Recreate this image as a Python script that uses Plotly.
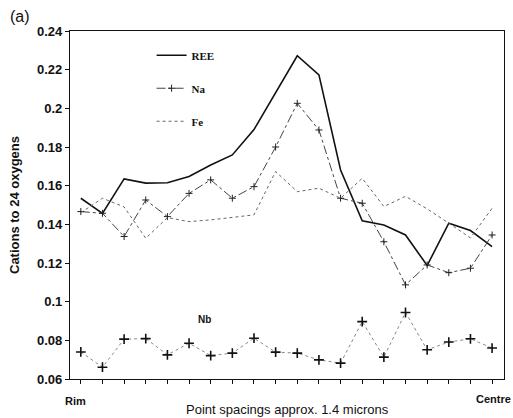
import plotly.graph_objects as go

points = list(range(20))
ree = [0.1535, 0.1457, 0.1635, 0.1613, 0.1615, 0.1647, 0.1707, 0.1759, 0.1890, 0.2080,
       0.2272, 0.2173, 0.1681, 0.1418, 0.1397, 0.1345, 0.1187, 0.1406, 0.1368, 0.1285]
na = [0.1466, 0.1457, 0.1337, 0.1526, 0.1440, 0.1560, 0.1630, 0.1535, 0.1595, 0.1800,
      0.2026, 0.1888, 0.1535, 0.1509, 0.1310, 0.1087, 0.1190, 0.1150, 0.1173, 0.1345]
fe = [0.1460, 0.1535, 0.1490, 0.1328, 0.1435, 0.1414, 0.1423, 0.1437, 0.1449, 0.1673,
      0.1569, 0.1587, 0.1535, 0.1638, 0.1492, 0.1545, 0.1480, 0.1406, 0.1330, 0.1483]
nb = [0.0740, 0.0661, 0.0806, 0.0809, 0.0725, 0.0785, 0.0721, 0.0734, 0.0811, 0.0739,
      0.0734, 0.0699, 0.0682, 0.0897, 0.0713, 0.0944, 0.0751, 0.0791, 0.0808, 0.0760]
y_ticks = [0.06, 0.08, 0.10, 0.12, 0.14, 0.16, 0.18, 0.20, 0.22, 0.24]
y_tick_labels = ["0.06", "0.08", "0.1", "0.12", "0.14", "0.16", "0.18", "0.2", "0.22", "0.24"]
end_labels = ["Rim", "Centre"]

SANS = "Liberation Sans, Arial"

fig = go.Figure()
fig.add_trace(go.Scatter(x=points, y=ree, mode="lines", name="REE", legendgroup="a",
                         line=dict(color="#111111", width=1.6)))
fig.add_trace(go.Scatter(x=points, y=na, mode="lines+markers", name="Na", legendgroup="b",
                         line=dict(color="#444444", width=1, dash="dashdot"),
                         marker=dict(symbol="cross-thin", size=5, line=dict(color="#222222", width=1))))
fig.add_trace(go.Scatter(x=points, y=fe, mode="lines", name="Fe", legendgroup="c",
                         line=dict(color="#666666", width=1, dash="dot")))
fig.add_trace(go.Scatter(x=points, y=nb, mode="lines+markers", name="Nb", showlegend=False,
                         line=dict(color="#888888", width=1, dash="dot"),
                         marker=dict(symbol="cross-thin", size=7, line=dict(color="#111111", width=1.6))))

fig.add_annotation(x=5.73, y=0.091, text="<b>Nb</b>", showarrow=False,
                   font=dict(family=SANS, size=10, color="#111"))
# panel label
fig.add_annotation(x=0, y=1, xref="paper", yref="paper", xshift=-62, yshift=15,
                   text="(a)", showarrow=False, xanchor="left", yanchor="middle",
                   font=dict(family=SANS, size=16, color="#111"))
# end labels of the x axis
fig.add_annotation(x=points[0], y=0, xref="x", yref="paper", xshift=-5, yshift=-22,
                   text="<b>" + end_labels[0] + "</b>", showarrow=False, yanchor="middle",
                   font=dict(family=SANS, size=11, color="#111"))
fig.add_annotation(x=points[-1], y=0, xref="x", yref="paper", xshift=1, yshift=-20,
                   text="<b>" + end_labels[1] + "</b>", showarrow=False, yanchor="middle",
                   font=dict(family=SANS, size=11, color="#111"))
# axis titles
fig.add_annotation(x=0.5, y=0, xref="paper", yref="paper", yshift=-30,
                   text="Point spacings approx. 1.4 microns", showarrow=False, yanchor="middle",
                   font=dict(family=SANS, size=13, color="#111"))
fig.add_annotation(x=0, y=0.5, xref="paper", yref="paper", xshift=-56,
                   text="<b>Cations to 24 oxygens</b>", showarrow=False, textangle=-90,
                   xanchor="center", yanchor="middle",
                   font=dict(family=SANS, size=13, color="#111"))

fig.update_layout(
    width=513, height=418,
    margin=dict(l=70, r=9, t=31, b=39),
    paper_bgcolor="white", plot_bgcolor="white",
    showlegend=True,
    legend=dict(x=0.188, y=0.972, xanchor="left", yanchor="top", bgcolor="rgba(0,0,0,0)",
                traceorder="grouped", tracegroupgap=14,
                font=dict(family="Liberation Serif, Times New Roman", size=11, color="#111", weight="bold")),
    xaxis=dict(range=[-0.5, 19.55], tickmode="array", tickvals=points,
               ticktext=[""] * len(points), automargin=False,
               ticks="outside", ticklen=4, tickcolor="#111", tickwidth=1.2,
               showgrid=False, zeroline=False, showline=True, linecolor="#111", linewidth=1.2, mirror=True),
    yaxis=dict(range=[0.06, 0.24], tickmode="array", tickvals=y_ticks, ticktext=y_tick_labels,
               automargin=False,
               ticks="outside", ticklen=4, tickcolor="#111", tickwidth=1.2,
               tickfont=dict(family=SANS, size=13, color="#111", weight="bold"),
               showgrid=False, zeroline=False, showline=True, linecolor="#111", linewidth=1.2, mirror=True),
)

fig.write_html("out.html", config={"displayModeBar": False},
               post_script="document.body.style.margin='0';document.body.style.overflow='hidden';")
